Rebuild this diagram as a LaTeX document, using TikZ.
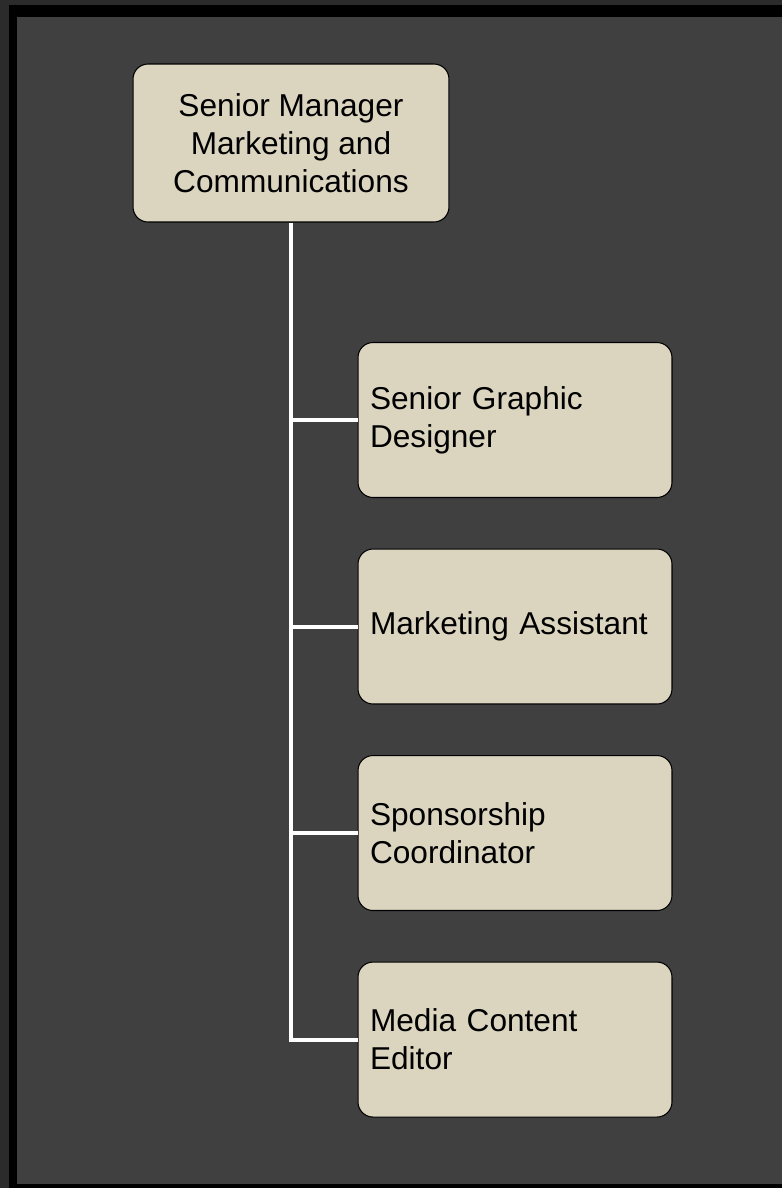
\documentclass[tikz,border=0pt]{standalone}
\usepackage{fontspec}
\setmainfont{Liberation Sans}
\usepackage{tikz}
\usetikzlibrary{positioning,calc}

\definecolor{boxfill}{HTML}{DBD5C0}
\definecolor{panel}{HTML}{404040}
\definecolor{rim}{HTML}{2B2B2B}

\tikzset{
  post/.style={draw=black, line width=0.6pt, fill=boxfill, rounded corners=0.3cm,
    font=\fontsize{18pt}{21.6pt}\selectfont},
  conn/.style={draw=white, line width=2.3pt}
}

\begin{document}
\begin{tikzpicture}[x=0.02cm, y=-0.02cm]
    \useasboundingbox (0,0) rectangle (782,1188);
    \fill[rim] (0,0) rectangle (782,1188);
    \fill[black] (9,5) rectangle (782,1188);
    \fill[panel] (17,17) rectangle (782,1184);

    \node[post, minimum width=6.32cm, minimum height=3.16cm, align=center] (b0) at (291,143) {Senior Manager\\Marketing and\\Communications};
    \node[post, text width=5.8cm, inner xsep=0.24cm, minimum height=3.1cm, align=left] (b1) at (515,420) {Senior Graphic\\Designer};
    \node[post, text width=5.8cm, inner xsep=0.24cm, minimum height=3.1cm, align=left, below=1.01cm of b1] (b2) {Marketing Assistant};
    \node[post, text width=5.8cm, inner xsep=0.24cm, minimum height=3.1cm, align=left, below=1.01cm of b2] (b3) {Sponsorship\\Coordinator};
    \node[post, text width=5.8cm, inner xsep=0.24cm, minimum height=3.1cm, align=left, below=1.01cm of b3] (b4) {Media Content\\Editor};

    \draw[conn] (b0.south) |- (b4.west);
    \foreach \n in {b1,b2,b3}
      \draw[conn] (b0.south |- \n.west) -- (\n.west);
  \end{tikzpicture}
\end{document}
